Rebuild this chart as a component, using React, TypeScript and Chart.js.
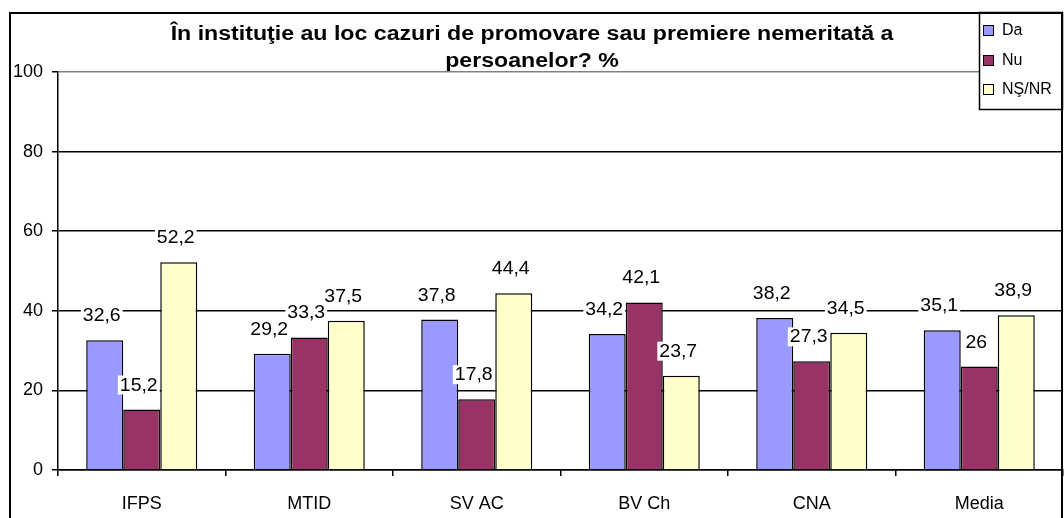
import React, { useEffect, useRef } from "react";
import { Chart, registerables } from "chart.js";

Chart.register(...registerables);

const categories = ["IFPS", "MTID", "SV AC", "BV Ch", "CNA", "Media"];
const seriesNames = ["Da", "Nu", "NŞ/NR"];
const daValues = [32.6, 29.2, 37.8, 34.2, 38.2, 35.1];
const nuValues = [15.2, 33.3, 17.8, 42.1, 27.3, 26];
const nsnrValues = [52.2, 37.5, 44.4, 23.7, 34.5, 38.9];
const yTicks = [0, 20, 40, 60, 80, 100];
const titleLines = [
  "În instituţie au loc cazuri de promovare sau premiere nemeritată a",
  "persoanelor? %",
];
const seriesColors = ["#9999FF", "#993366", "#FFFFCC"];

const FONT = '"Liberation Sans", Arial, Helvetica, sans-serif';

const fmt = (v: number) => String(v).replace(".", ",");

const decorPlugin = {
  id: "decor",
  afterDatasetsDraw(chart: any) {
    const ctx = chart.ctx as CanvasRenderingContext2D;
    ctx.save();
    ctx.font = `18px ${FONT}`;
    ctx.textAlign = "center";
    ctx.textBaseline = "alphabetic";
    const sx = 1.08;
    chart.data.datasets.forEach((ds: any, di: number) => {
      const meta = chart.getDatasetMeta(di);
      meta.data.forEach((bar: any, i: number) => {
        const txt = fmt(ds.data[i]);
        const x = bar.x - 3;
        const y = bar.y - 19;
        const w = ctx.measureText(txt).width * sx;
        ctx.fillStyle = "#ffffff";
        ctx.fillRect(x - w / 2 - 2, y - 15, w + 4, 19);
        ctx.save();
        ctx.translate(x, y);
        ctx.scale(sx, 1);
        ctx.fillStyle = "#000000";
        ctx.fillText(txt, 0, 0);
        ctx.restore();
      });
    });
    ctx.restore();
  },
  afterDraw(chart: any) {
    const ctx = chart.ctx as CanvasRenderingContext2D;
    ctx.save();
    // Title
    ctx.fillStyle = "#000";
    ctx.font = `bold 20px ${FONT}`;
    ctx.textAlign = "center";
    ctx.textBaseline = "alphabetic";
    const tsx = 1.157;
    [40, 67].forEach((ty, k) => {
      ctx.save();
      ctx.translate(532, ty);
      ctx.scale(tsx, 1);
      ctx.fillText(titleLines[k], 0, 0);
      ctx.restore();
    });

    // Legend box
    const lx = 979, ly = 12, lw = 83, lh = 97;
    ctx.fillStyle = "#fff";
    ctx.fillRect(lx, ly, lw, lh);
    ctx.strokeStyle = "#000";
    ctx.lineWidth = 1.5;
    ctx.strokeRect(lx + 0.5, ly + 0.5, lw, lh);
    ctx.font = `16px ${FONT}`;
    ctx.textAlign = "left";
    ctx.textBaseline = "middle";
    ctx.lineWidth = 1;
    chart.data.datasets.forEach((ds: any, i: number) => {
      const cy = 30 + i * 29.5;
      ctx.fillStyle = ds.backgroundColor;
      ctx.fillRect(984, Math.round(cy) - 4, 9, 9);
      ctx.strokeStyle = "#000";
      ctx.strokeRect(983.5, Math.round(cy) - 4.5, 10, 10);
      ctx.fillStyle = "#000";
      ctx.fillText(ds.label, 1002, cy + 1);
    });

    // Outer border
    ctx.strokeStyle = "#000";
    ctx.lineWidth = 2;
    ctx.strokeRect(10, 13, 1052, 600);
    ctx.restore();
  },
};

export default function App() {
  const ref = useRef<HTMLCanvasElement | null>(null);
  useEffect(() => {
    if (!ref.current) return;
    const values = [daValues, nuValues, nsnrValues];
    const chart = new Chart(ref.current, {
      type: "bar",
      data: {
        labels: categories,
        datasets: seriesNames.map((name, i) => ({
          label: name,
          data: values[i],
          backgroundColor: seriesColors[i],
          borderColor: "#000",
          borderWidth: 1.5,
          categoryPercentage: 0.663,
          barPercentage: 1,
        })),
      },
      options: {
        animation: false,
        responsive: false,
        devicePixelRatio: 1,
        events: [],
        layout: { padding: { top: 72, left: 0, right: 1, bottom: 0 } },
        plugins: {
          legend: { display: false },
          title: { display: false },
          tooltip: { enabled: false },
        },
        scales: {
          x: {
            offset: true,
            grid: {
              offset: true,
              drawOnChartArea: false,
              drawTicks: true,
              tickLength: 6,
              color: "#000",
              lineWidth: 1.5,
            },
            border: { color: "#000", width: 1.5 },
            ticks: {
              color: "#000",
              font: { family: FONT, size: 18 },
              padding: 17,
              maxRotation: 0,
              autoSkip: false,
            },
            afterFit: (s: any) => {
              s.height = 48;
            },
          },
          y: {
            min: 0,
            max: 100,
            afterBuildTicks: (s: any) => {
              s.ticks = yTicks.map((v) => ({ value: v }));
            },
            grid: {
              color: (c: any) => (c.tick && c.tick.value === 100 ? "#808080" : "#000"),
              tickColor: "#000",
              tickLength: 6,
              drawTicks: true,
              lineWidth: 1.5,
            },
            border: { color: "#000", width: 1.5 },
            ticks: {
              color: "#000",
              font: { family: FONT, size: 18 },
              padding: 9,
            },
            afterFit: (s: any) => {
              s.width = 58;
            },
          },
        },
      },
      plugins: [decorPlugin],
    } as any);
    return () => chart.destroy();
  }, []);
  return (
    <div style={{ position: "absolute", left: 0, top: 0, width: 1064, height: 518, background: "#fff" }}>
      <canvas ref={ref} width={1064} height={518} style={{ display: "block" }} />
    </div>
  );
}
